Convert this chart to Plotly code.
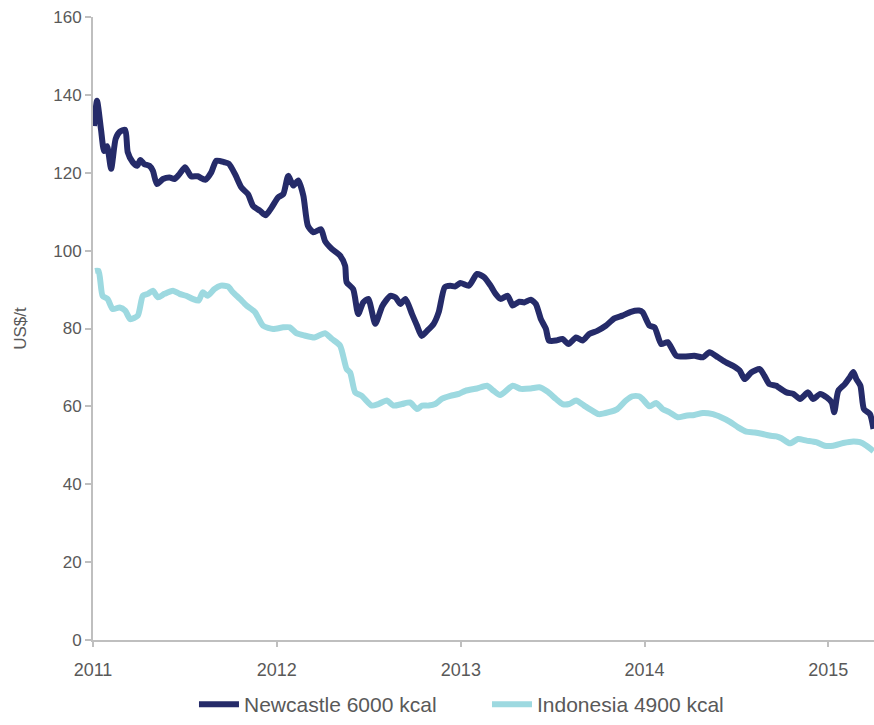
import plotly.graph_objects as go

# Newcastle 6000 kcal, weekly-ish readings (US$/t)
newcastle_dates = [
    "2011-01-03", "2011-01-09", "2011-01-17", "2011-01-23", "2011-01-29", "2011-02-06",
    "2011-02-15", "2011-02-23", "2011-03-06", "2011-03-11", "2011-03-21", "2011-03-30",
    "2011-04-05", "2011-04-13", "2011-04-23", "2011-04-30", "2011-05-08", "2011-05-20",
    "2011-06-02", "2011-06-12", "2011-06-22", "2011-07-03", "2011-07-15", "2011-07-28",
    "2011-08-12", "2011-08-24", "2011-09-03", "2011-09-19", "2011-09-28", "2011-10-10",
    "2011-10-23", "2011-11-05", "2011-11-15", "2011-11-29", "2011-12-10", "2011-12-22",
    "2012-01-04", "2012-01-14", "2012-01-24", "2012-02-03", "2012-02-13", "2012-02-23",
    "2012-03-03", "2012-03-14", "2012-03-29", "2012-04-06", "2012-04-20", "2012-05-06",
    "2012-05-16", "2012-05-19", "2012-06-01", "2012-06-11", "2012-06-21", "2012-07-01",
    "2012-07-15", "2012-07-29", "2012-08-14", "2012-08-24", "2012-09-03", "2012-09-13",
    "2012-09-26", "2012-10-06", "2012-10-15", "2012-10-26", "2012-11-08", "2012-11-18",
    "2012-11-30", "2012-12-11", "2012-12-21", "2012-12-31", "2013-01-17", "2013-02-02",
    "2013-02-16", "2013-03-01", "2013-03-11", "2013-03-21", "2013-04-04", "2013-04-14",
    "2013-04-27", "2013-05-07", "2013-05-20", "2013-05-30", "2013-06-09", "2013-06-19",
    "2013-06-25", "2013-07-09", "2013-07-22", "2013-08-03", "2013-08-18", "2013-08-31",
    "2013-09-13", "2013-09-29", "2013-10-16", "2013-11-02", "2013-11-18", "2013-12-05",
    "2013-12-21", "2013-12-28", "2014-01-11", "2014-01-21", "2014-02-03", "2014-02-16",
    "2014-03-05", "2014-03-21", "2014-04-10", "2014-04-27", "2014-05-10", "2014-05-27",
    "2014-06-12", "2014-06-26", "2014-07-09", "2014-07-19", "2014-08-01", "2014-08-18",
    "2014-08-27", "2014-09-06", "2014-09-20", "2014-09-24", "2014-10-10", "2014-10-24",
    "2014-11-06", "2014-11-22", "2014-12-02", "2014-12-16", "2014-12-29", "2015-01-08",
    "2015-01-13", "2015-01-21", "2015-02-03", "2015-02-13", "2015-02-20", "2015-02-26",
    "2015-03-06", "2015-03-13", "2015-03-25", "2015-04-01",
]
newcastle_values = [
    132, 138.5, 131, 125.6, 126.8, 121,
    128.7, 130.5, 131, 125.3, 122.7, 121.8,
    123.3, 122.2, 121.8, 120.5, 117.1, 118.4,
    118.8, 118.4, 119.7, 121.4, 119.1, 119.1,
    118.2, 120.1, 123.1, 122.7, 122.3, 119.7,
    116.2, 114.5, 111.5, 110.2, 109.1, 111.1,
    113.7, 114.5, 119.2, 116.7, 118, 114.1,
    106.4, 104.7, 105.5, 102.5, 100.4, 98.7,
    96.1, 91.9, 90.1, 83.7, 86.7, 87.6,
    81.2, 85.8, 88.4, 88, 86.3, 87.6,
    83.7, 80.7, 78.1, 79.4, 81.2, 84.2,
    90.6, 91, 90.8, 91.7, 91, 94,
    93.2, 91, 88.9, 87.6, 88.4, 85.9,
    86.9, 86.7, 87.4, 86.3, 82.4, 79.9,
    76.9, 76.9, 77.3, 76, 77.7, 76.9,
    78.6, 79.4, 80.7, 82.6, 83.3, 84.3,
    84.6, 84.2, 80.7, 80.3, 76, 76.5,
    73, 72.8, 73, 72.6, 73.9, 72.6,
    71.3, 70.4, 69.2, 67, 68.7, 69.6,
    67.9, 65.7, 65.3, 64.9, 63.6, 63.2,
    61.9, 63.6, 61.9, 63.2, 62.3, 61,
    58.5, 64, 65.7, 67.5, 68.8, 67,
    65.3, 59.3, 58, 54.2,
]

# Indonesia 4900 kcal
indonesia_dates = [
    "2011-01-05", "2011-01-12", "2011-01-20", "2011-01-30", "2011-02-09", "2011-02-23",
    "2011-03-06", "2011-03-16", "2011-03-31", "2011-04-10", "2011-04-20", "2011-04-30",
    "2011-05-10", "2011-05-23", "2011-06-09", "2011-06-22", "2011-07-05", "2011-07-18",
    "2011-07-30", "2011-08-07", "2011-08-17", "2011-08-30", "2011-09-12", "2011-09-26",
    "2011-10-06", "2011-10-20", "2011-11-02", "2011-11-19", "2011-12-05", "2011-12-25",
    "2012-01-14", "2012-01-27", "2012-02-09", "2012-02-25", "2012-03-16", "2012-04-06",
    "2012-04-20", "2012-05-06", "2012-05-19", "2012-05-26", "2012-06-05", "2012-06-18",
    "2012-07-08", "2012-07-21", "2012-08-07", "2012-08-20", "2012-09-06", "2012-09-22",
    "2012-10-06", "2012-10-16", "2012-10-29", "2012-11-11", "2012-11-24", "2012-12-11",
    "2012-12-28", "2013-01-10", "2013-02-02", "2013-02-22", "2013-03-07", "2013-03-20",
    "2013-04-14", "2013-04-30", "2013-05-20", "2013-06-06", "2013-06-22", "2013-07-09",
    "2013-07-22", "2013-08-04", "2013-08-18", "2013-09-03", "2013-09-19", "2013-10-02",
    "2013-10-22", "2013-11-08", "2013-11-25", "2013-12-08", "2013-12-21", "2013-12-28",
    "2014-01-11", "2014-01-24", "2014-02-06", "2014-02-19", "2014-03-08", "2014-03-24",
    "2014-04-10", "2014-04-27", "2014-05-17", "2014-06-02", "2014-06-19", "2014-07-06",
    "2014-07-22", "2014-08-08", "2014-08-24", "2014-09-06", "2014-09-20", "2014-09-30",
    "2014-10-17", "2014-11-02", "2014-11-19", "2014-12-08", "2014-12-25", "2015-01-11",
    "2015-01-31", "2015-02-20", "2015-03-05", "2015-03-18", "2015-04-01",
]
indonesia_values = [
    94.8, 94.8, 88.4, 87.6, 85, 85.4,
    84.6, 82.4, 83.3, 88.4, 88.9, 89.7,
    88, 88.9, 89.7, 88.9, 88.4, 87.6,
    87.2, 89.3, 88.4, 90.1, 91, 90.8,
    89.3, 87.6, 85.9, 84.2, 80.7, 79.9,
    80.3, 80.3, 78.8, 78.2, 77.7, 78.8,
    77.3, 75.6, 69.6, 68.7, 63.6, 62.7,
    60.2, 60.6, 61.5, 60.2, 60.6, 61,
    59.3, 60.2, 60.2, 60.6, 61.9, 62.7,
    63.2, 64, 64.6, 65.3, 64, 62.9,
    65.3, 64.5, 64.6, 64.9, 63.8, 61.9,
    60.6, 60.6, 61.5, 60.2, 58.9, 58,
    58.5, 59.3, 61.5, 62.6, 62.6, 61.9,
    60, 60.9, 59.3, 58.5, 57.2, 57.6,
    57.8, 58.3, 58, 57.2, 56.1, 54.6,
    53.5, 53.3, 52.9, 52.5, 52.3, 51.8,
    50.5, 51.6, 51.2, 50.8, 49.9, 49.9,
    50.6, 51, 50.8, 49.9, 48.5,
]

series_names = ["Newcastle 6000 kcal", "Indonesia 4900 kcal"]
series_colors = ["#252b69", "#9dd9e0"]

text_color = "#595959"
axis_color = "#bfbfbf"

fig = go.Figure()

fig.add_trace(go.Scatter(
    x=newcastle_dates, y=newcastle_values, name=series_names[0],
    mode="lines", line=dict(color=series_colors[0], width=6, shape="spline", smoothing=0.6),
))
fig.add_trace(go.Scatter(
    x=indonesia_dates, y=indonesia_values, name=series_names[1],
    mode="lines", line=dict(color=series_colors[1], width=6, shape="spline", smoothing=0.6),
))

fig.update_layout(
    width=874,
    height=725,
    paper_bgcolor="white",
    plot_bgcolor="white",
    font=dict(family="Arial, Liberation Sans, sans-serif", color=text_color, size=17),
    margin=dict(l=93, r=0, t=17, b=84, pad=0),
    xaxis=dict(
        type="date",
        range=["2011-01-01", "2015-04-02"],
        tick0="2011-01-01",
        dtick="M12",
        tickformat="%Y",
        ticks="outside",
        ticklen=5,
        tickcolor=axis_color,
        tickwidth=2,
        showline=True,
        linecolor=axis_color,
        linewidth=2,
        showgrid=False,
        zeroline=False,
        ticklabelstandoff=7,
        tickfont=dict(size=18, color=text_color),
    ),
    yaxis=dict(
        range=[0, 160],
        dtick=20,
        ticks="outside",
        ticklen=6,
        tickcolor=axis_color,
        tickwidth=2,
        showline=True,
        linecolor=axis_color,
        linewidth=2,
        showgrid=False,
        zeroline=False,
        ticklabeloverflow="allow",
        title=dict(text="US$/t", standoff=22, font=dict(size=17, color=text_color)),
        tickfont=dict(size=17, color=text_color),
    ),
    legend=dict(
        orientation="h",
        x=0.1293,
        xanchor="left",
        y=-0.104,
        yanchor="middle",
        font=dict(size=21, color=text_color),
        itemwidth=40,
        entrywidth=238,
        entrywidthmode="pixels",
        tracegroupgap=0,
    ),
    showlegend=True,
)

# drop the default 8px page margin so the figure fills the window exactly
fig.write_html(
    "out.html",
    config={"displayModeBar": False},
    post_script="document.body.style.margin='0';",
)
